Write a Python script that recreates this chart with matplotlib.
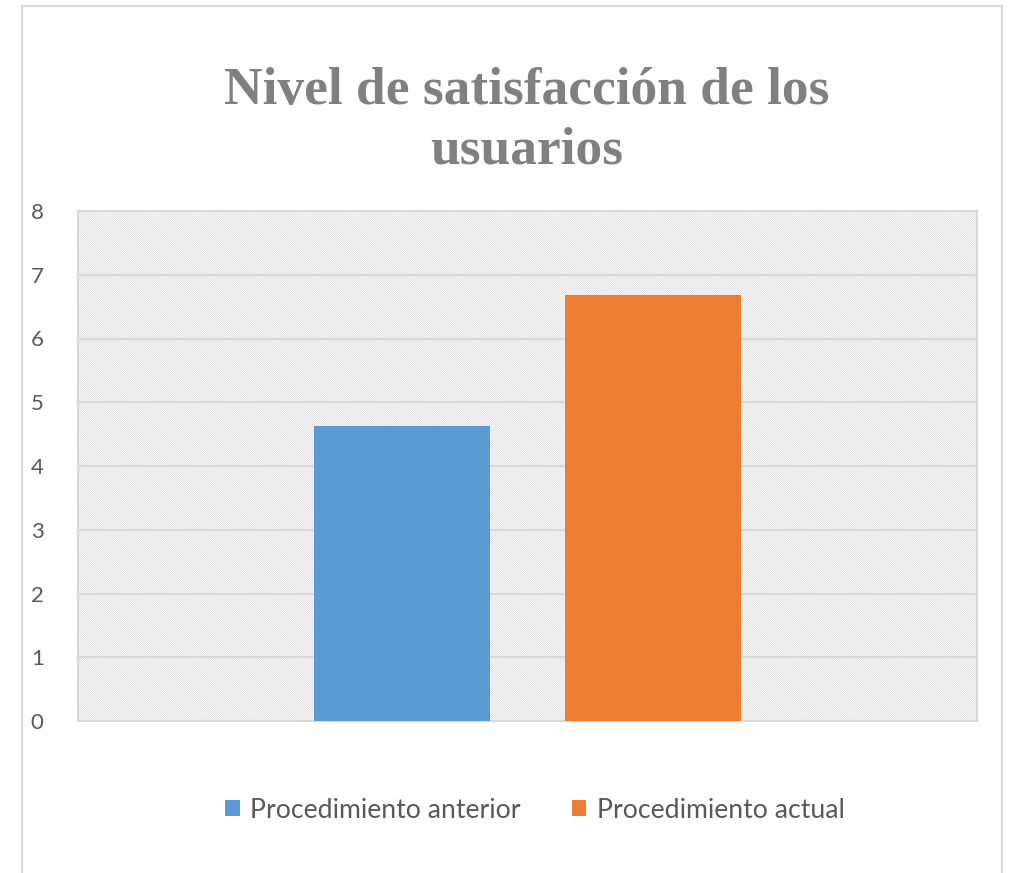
import matplotlib
matplotlib.use('Agg')
import matplotlib.pyplot as plt
from matplotlib.patches import Rectangle, Patch

# Data
series = ['Procedimiento anterior', 'Procedimiento actual']
values = [4.63, 6.68]
colors = ['#5b9bd5', '#ed7d31']
y_ticks = [0, 1, 2, 3, 4, 5, 6, 7, 8]
title = 'Nivel de satisfacción de los\nusuarios'

plt.rcParams['font.family'] = ['Lato', 'DejaVu Sans']
plt.rcParams['hatch.linewidth'] = 0.45

fig = plt.figure(figsize=(10.10, 8.73), dpi=100)
W, H = 1010, 873

# outer chart border (light gray frame)
fig.patches.append(Rectangle((22 / W, -0.01), (1002 - 22) / W, 1 - 6 / H + 0.01,
                             transform=fig.transFigure, fill=False,
                             edgecolor='#d9d9d9', linewidth=1.5))

ax = fig.add_axes([78 / W, (H - 721) / H, (977 - 78) / W, (721 - 211) / H])

# hatched plot area background
ax.add_patch(Rectangle((0, 0), 1, 1, transform=ax.transAxes, facecolor='white',
                       edgecolor='#d6d6d6', hatch='\\' * 16, linewidth=0, zorder=0))

x = [0, 1]
ax.bar(x, values, width=0.70, color=colors, zorder=3)

ax.set_xlim(-1.291, 2.291)
ax.set_ylim(0, 8)
ax.set_yticks(y_ticks)
ax.set_xticks([])
ax.yaxis.grid(True, color='#d9d9d9', linewidth=1.5, zorder=1)
ax.set_axisbelow(True)
ax.tick_params(axis='y', length=0, pad=34, labelsize=16, labelcolor='#595959')
for lab in ax.get_yticklabels():
    lab.set_horizontalalignment('left')
for s in ax.spines.values():
    s.set_color('#d9d9d9')
    s.set_linewidth(1.5)

fig.text(527 / W, 1 - 121 / H, title, ha='center', va='center',
         family='Liberation Serif', fontweight='bold', fontsize=38.5,
         color='#808080', linespacing=1.3)

handles = [Patch(facecolor=c, edgecolor='none') for c in colors]
fig.legend(handles, series, loc='center', bbox_to_anchor=(535 / W, 1 - 810 / H),
           ncol=2, frameon=False, fontsize=19.2, labelcolor='#595959',
           handlelength=0.55, handleheight=0.55, handletextpad=0.4,
           columnspacing=1.9)

fig.savefig('out.png', dpi=100)
